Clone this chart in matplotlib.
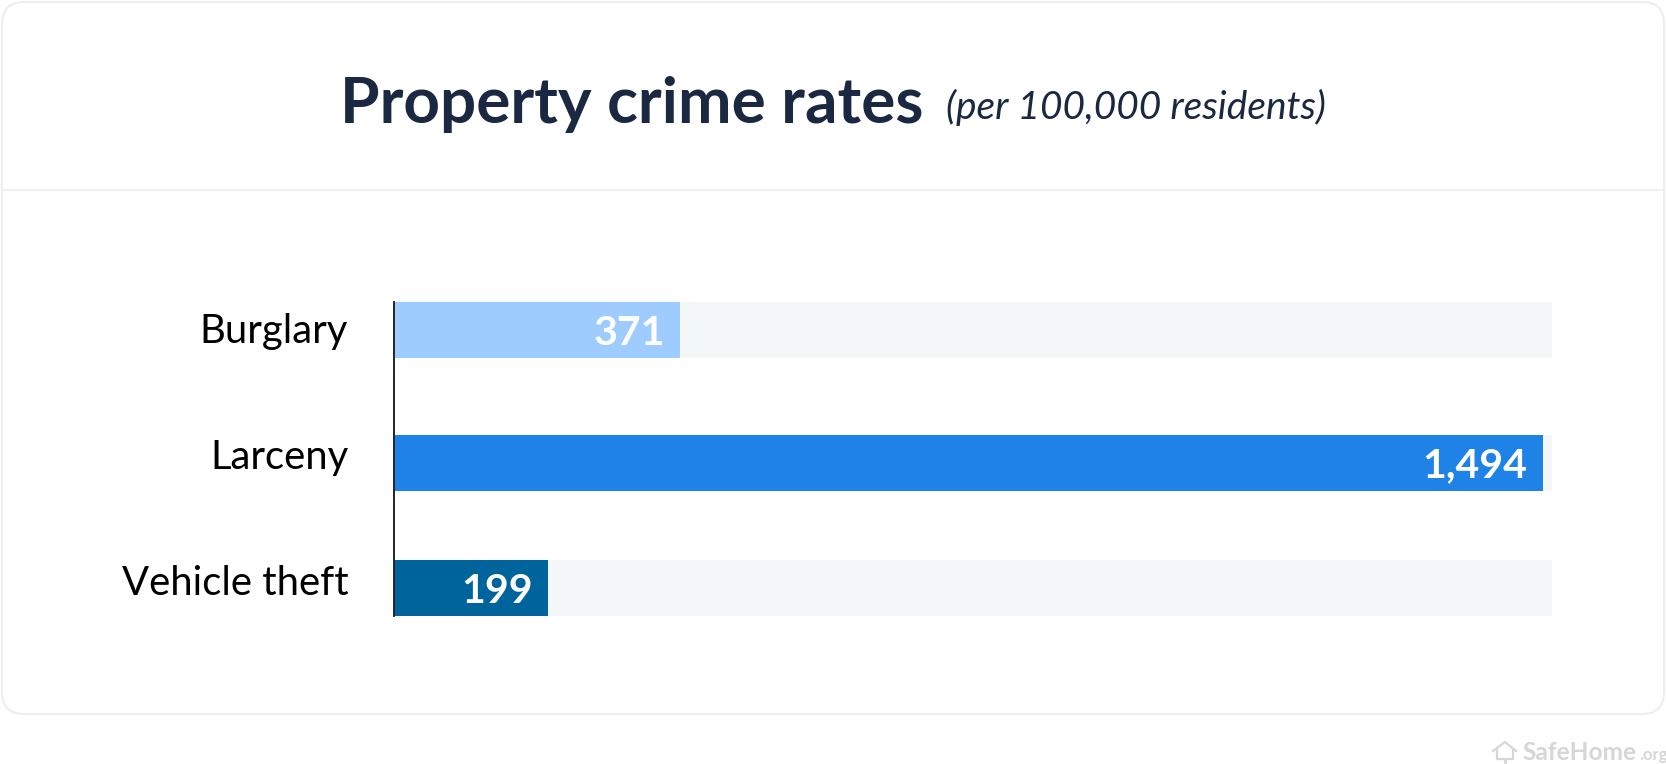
import matplotlib
matplotlib.use("Agg")
import matplotlib.pyplot as plt
from matplotlib.patches import FancyBboxPatch

categories = ["Burglary", "Larceny", "Vehicle theft"]
values = [371, 1494, 199]
value_labels = ["371", "1,494", "199"]
bar_colors = ["#9FCCFF", "#1F82E6", "#00649C"]
track_max = 1506

# rows are not evenly spaced in the original, labels sit on their own spacing
row_pos = [0, 1, 1.944]
label_pos = [-0.015, 0.936, 1.88]
bar_h = 0.4217

W, H = 1666, 764
plt.rcParams["font.family"] = ["Lato", "DejaVu Sans"]


def fx(px):
    return px / W


def fy(py):
    return 1 - py / H


fig = plt.figure(figsize=(W / 100, H / 100), dpi=100, facecolor="white")

# card and header divider
bg = fig.add_axes([0, 0, 1, 1], zorder=0)
bg.set_xlim(0, W)
bg.set_ylim(H, 0)
bg.axis("off")
bg.add_patch(FancyBboxPatch(
    (2, 2), 1662, 712,
    boxstyle="round,pad=0,rounding_size=22",
    facecolor="white", edgecolor="#EEEEEE", linewidth=1.6,
))
bg.plot([3, 1663], [190, 190], color="#EEEEEE", lw=1.2)

# watermark house
bg.plot([1497, 1497, 1513, 1513], [750, 759, 759, 750], color="#D6D6D6", lw=1.6)
bg.plot([1493, 1505, 1516], [751, 742, 751], color="#D6D6D6", lw=1.6)
bg.plot([1505, 1505], [759, 764], color="#D6D6D6", lw=2)

fig.text(fx(340), fy(123), "Property crime rates", fontsize=46, fontweight="bold",
         color="#1B2841", ha="left", va="baseline")
fig.text(fx(946), fy(119), "(per 100,000 residents)", fontsize=28, style="italic",
         color="#1B2841", ha="left", va="baseline")
fig.text(fx(1522), fy(760), "SafeHome", fontsize=17.6, fontweight="bold",
         color="#D6D6D6", ha="left", va="baseline")
fig.text(fx(1639), fy(760), ".org", fontsize=12, fontweight="bold",
         color="#D6D6D6", ha="left", va="baseline")

# bars
ax = fig.add_axes([fx(395), fy(616), (1552 - 395) / W, 314 / H], zorder=1)
ax.patch.set_alpha(0)
for side in ["top", "right", "bottom"]:
    ax.spines[side].set_visible(False)
ax.spines["left"].set_color("#111111")
ax.spines["left"].set_linewidth(1.3)
# moving a spine resets the ticks, so this comes before set_yticks
ax.spines["left"].set_position(("outward", 0.7))

ax.barh(row_pos, [track_max] * len(values), height=bar_h, color="#F4F7F8", linewidth=0)
ax.barh(row_pos, values, height=bar_h, color=bar_colors, linewidth=0)
ax.set_xlim(0, track_max)
ax.set_ylim(row_pos[-1] + bar_h / 2, -bar_h / 2)

for y, v, txt in zip(row_pos, values, value_labels):
    ax.annotate(txt, (v, y), xytext=(-11, 0), textcoords="offset points",
                ha="right", va="center_baseline", color="white",
                fontsize=29.5, fontweight="bold")

ax.set_yticks(label_pos)
ax.set_yticklabels(categories, fontsize=28.8, color="black")
ax.tick_params(axis="y", length=0, pad=33)
ax.set_xticks([])

fig.savefig("out.png", dpi=100)
